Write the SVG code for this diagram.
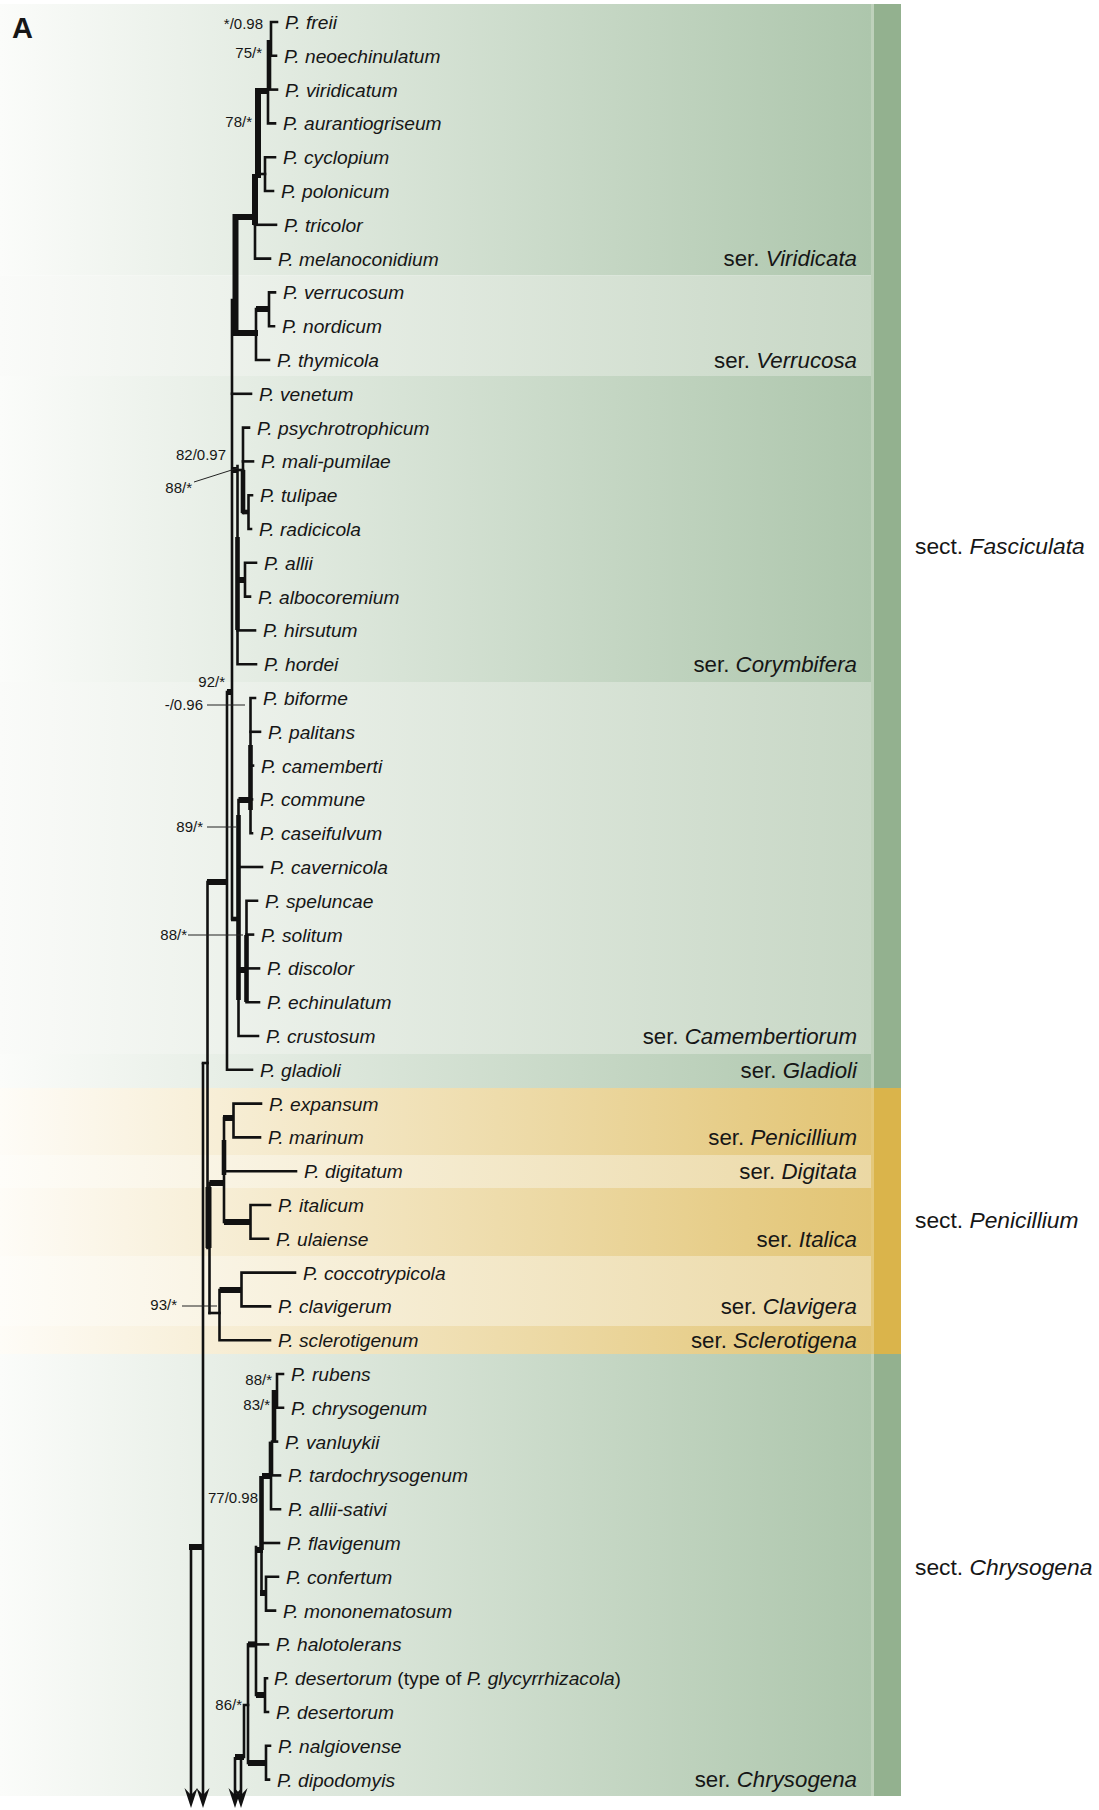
<svg xmlns="http://www.w3.org/2000/svg" width="1099" height="1810" viewBox="0 0 1099 1810">
<style>
.t{fill:none;stroke:#111;stroke-width:2.6;stroke-linecap:square;stroke-linejoin:miter}
.k{fill:none;stroke:#111;stroke-width:6;stroke-linecap:butt}
.k5{fill:none;stroke:#111;stroke-width:4.6;stroke-linecap:butt}
.a{fill:none;stroke:#111;stroke-width:2.6;marker-end:url(#arr)}
.ld{fill:none;stroke:#222;stroke-width:1}
text{font-family:"Liberation Sans",Arial,Helvetica,sans-serif;fill:#161616}
.tx{font-size:19.2px;font-style:italic}
.bs{font-size:15px;text-anchor:end}
.ser{font-size:22.3px;text-anchor:end}
.sec{font-size:22.8px}
.i{font-style:italic}
.up{font-style:normal}
</style>
<defs>
<linearGradient id="gD" gradientUnits="userSpaceOnUse" x1="0" y1="0" x2="871" y2="0"><stop offset="0" stop-color="#fbfcfa"/><stop offset="1" stop-color="#adc6ac"/></linearGradient>
<linearGradient id="gL" gradientUnits="userSpaceOnUse" x1="0" y1="0" x2="871" y2="0"><stop offset="0" stop-color="#fafbf9"/><stop offset="1" stop-color="#c7d7c5"/></linearGradient>
<linearGradient id="yD" gradientUnits="userSpaceOnUse" x1="0" y1="0" x2="871" y2="0"><stop offset="0" stop-color="#fefcf7"/><stop offset="1" stop-color="#e2c473"/></linearGradient>
<linearGradient id="yL" gradientUnits="userSpaceOnUse" x1="0" y1="0" x2="871" y2="0"><stop offset="0" stop-color="#fefdf9"/><stop offset="1" stop-color="#ebd8a4"/></linearGradient>
<marker id="arr" viewBox="-21 -8 22 16" markerUnits="userSpaceOnUse" markerWidth="22" markerHeight="16" refX="-12" refY="0" orient="auto"><path d="M0,0 L-20,-6.5 L-13,0 L-20,6.5 Z" fill="#111"/></marker>
</defs>
<rect width="1099" height="1810" fill="#fff"/>
<g id="bands">
<rect x="0" y="4" width="871" height="271.5" fill="url(#gD)"/>
<rect x="0" y="275.5" width="871" height="100.5" fill="url(#gL)"/>
<rect x="0" y="376" width="871" height="306" fill="url(#gD)"/>
<rect x="0" y="682" width="871" height="372" fill="url(#gL)"/>
<rect x="0" y="1054" width="871" height="34" fill="url(#gD)"/>
<rect x="0" y="1088" width="871" height="67" fill="url(#yD)"/>
<rect x="0" y="1155" width="871" height="33" fill="url(#yL)"/>
<rect x="0" y="1188" width="871" height="68" fill="url(#yD)"/>
<rect x="0" y="1256" width="871" height="70" fill="url(#yL)"/>
<rect x="0" y="1326" width="871" height="28" fill="url(#yD)"/>
<rect x="0" y="1354" width="871" height="442" fill="url(#gD)"/>
</g>
<g id="sections">
<rect x="871" y="4" width="3" height="1084" fill="#bed1bb"/>
<rect x="871" y="1088" width="3" height="266" fill="#e4c87a"/>
<rect x="871" y="1354" width="3" height="442" fill="#bed1bb"/>
<rect x="874" y="4" width="27" height="1084" fill="#93b18f"/>
<rect x="874" y="1088" width="27" height="266" fill="#dab44b"/>
<rect x="874" y="1354" width="27" height="442" fill="#93b18f"/>
<g id="sect-fasciculata"><text class="sec" x="915" y="554">sect. <tspan class="i">Fasciculata</tspan></text></g>
<g id="sect-penicillium"><text class="sec" x="915" y="1228">sect. <tspan class="i">Penicillium</tspan></text></g>
<g id="sect-chrysogena"><text class="sec" x="915" y="1575">sect. <tspan class="i">Chrysogena</tspan></text></g>
</g>
<g id="series">
<text class="ser" x="857" y="266">ser. <tspan class="i">Viridicata</tspan></text>
<text class="ser" x="857" y="367.5">ser. <tspan class="i">Verrucosa</tspan></text>
<text class="ser" x="857" y="671.5">ser. <tspan class="i">Corymbifera</tspan></text>
<text class="ser" x="857" y="1043.5">ser. <tspan class="i">Camembertiorum</tspan></text>
<text class="ser" x="857" y="1077.5">ser. <tspan class="i">Gladioli</tspan></text>
<text class="ser" x="857" y="1145">ser. <tspan class="i">Penicillium</tspan></text>
<text class="ser" x="857" y="1178.5">ser. <tspan class="i">Digitata</tspan></text>
<text class="ser" x="857" y="1246.5">ser. <tspan class="i">Italica</tspan></text>
<text class="ser" x="857" y="1314">ser. <tspan class="i">Clavigera</tspan></text>
<text class="ser" x="857" y="1347.5">ser. <tspan class="i">Sclerotigena</tspan></text>
<text class="ser" x="857" y="1787">ser. <tspan class="i">Chrysogena</tspan></text>
</g>
<text x="12" y="38" style="font-size:29px;font-weight:bold">A</text>
<g id="connectors">
<path class="t" d="M277,22 H271 V55.8 H276"/>
<path class="k5" d="M269,40 V90"/>
<path class="t" d="M269,89.6 H277"/>
<path class="t" d="M268,89.6 V123.4 H275"/>
<path class="k" d="M258,91 H269"/>
<path class="k" d="M258,88 V178"/>
<path class="t" d="M258,174 H265"/>
<path class="t" d="M275,157.2 H265 V191 H273"/>
<path class="k" d="M255,174 V225"/>
<path class="t" d="M255,224.8 H276"/>
<path class="t" d="M255,224 V258.6 H270"/>
<path class="k" d="M235.5,217 H258"/>
<path class="t" d="M275,292.4 H269 V326.2 H274"/>
<path class="k" d="M256,309 H269"/>
<path class="t" d="M256,309 V360 H269"/>
<path class="k" d="M232,333 H258"/>
<path class="k" d="M235.5,214 V336"/>
<path class="t" d="M232,300 V919"/>
<path class="t" d="M232,393.8 H251"/>
<path class="k" d="M232,470 H238"/>
<path class="t" d="M237.5,466 V664.2 H256"/>
<path class="k5" d="M237.5,537 V630"/>
<path class="t" d="M237.5,470 H243"/>
<path class="t" d="M249,427.6 H243 V513"/>
<path class="t" d="M243,461.4 H253"/>
<path class="k5" d="M243,470 V513"/>
<path class="k5" d="M243,512 H248.5"/>
<path class="t" d="M252,495.2 H248.5 V529 H251"/>
<path class="k" d="M237.5,580 H245"/>
<path class="t" d="M256,562.8 H245 V596.6 H250"/>
<path class="t" d="M237.5,630.4 H255"/>
<path class="k" d="M227,692 H233"/>
<path class="t" d="M227,692 V1069.8 H252"/>
<path class="k" d="M207,882 H228"/>
<path class="k5" d="M231,919 H239"/>
<path class="t" d="M255,698 H250.5 V833.2 H252"/>
<path class="k5" d="M250.5,745 V810"/>
<path class="t" d="M250.5,731.8 H260"/>
<path class="t" d="M250.5,765.6 H253"/>
<path class="t" d="M250.5,799.4 H252"/>
<path class="k" d="M238.5,800 H251"/>
<path class="t" d="M238.5,800 V1036 H258"/>
<path class="k5" d="M238.5,815 V1000"/>
<path class="t" d="M238.5,867 H262"/>
<path class="k" d="M238.5,970 H246.5"/>
<path class="t" d="M257,900.8 H246.5 V1002.2 H259"/>
<path class="k5" d="M246.5,935 V1002"/>
<path class="t" d="M246.5,934.6 H253"/>
<path class="t" d="M246.5,968.4 H259"/>
<path class="t" d="M207.5,882 V1248"/>
<path class="k" d="M208.5,1187 V1248"/>
<path class="t" d="M209.5,1183 V1313"/>
<path class="k" d="M209.5,1183 H224"/>
<path class="t" d="M224,1118 V1222"/>
<path class="k5" d="M224,1140 V1175"/>
<path class="k" d="M223,1118 H234"/>
<path class="t" d="M261,1103.6 H233.5 V1137.4 H260"/>
<path class="t" d="M224,1171.2 H296"/>
<path class="k" d="M224,1222 H250.5"/>
<path class="t" d="M270,1205 H250.5 V1238.8 H268"/>
<path class="t" d="M209.5,1313 H219.5"/>
<path class="t" d="M219.5,1290 V1340.2 H270"/>
<path class="k" d="M219.5,1290 H241.5"/>
<path class="t" d="M295,1272.6 H241.5 V1306.4 H270"/>
<path class="t" d="M203,1063 H207.5"/>
<path class="a" d="M203,1063 V1796"/>
<path class="k" d="M189,1547 H203"/>
<path class="a" d="M191,1547 V1796"/>
<path class="t" d="M283,1374 H277 V1407.8 H283"/>
<path class="k5" d="M274,1390 V1442"/>
<path class="t" d="M272,1441.6 H277"/>
<path class="k5" d="M271,1441.6 V1476"/>
<path class="k" d="M262,1476 H271"/>
<path class="t" d="M271,1475.4 H280"/>
<path class="t" d="M271,1476 V1509.2 H280"/>
<path class="k5" d="M261.5,1476 V1550"/>
<path class="t" d="M261.5,1543 H279"/>
<path class="k" d="M255,1550 H263"/>
<path class="t" d="M261.5,1550 V1593"/>
<path class="k" d="M260,1593 H267"/>
<path class="t" d="M278,1576.8 H266 V1610.6 H275"/>
<path class="t" d="M256,1547 V1695"/>
<path class="k" d="M248,1644.4 H257"/>
<path class="t" d="M257,1644.4 H268"/>
<path class="k" d="M256,1695 H265"/>
<path class="t" d="M267,1678.2 H265 V1712 H268"/>
<path class="t" d="M248,1644.4 V1763"/>
<path class="k" d="M248,1763 H266"/>
<path class="t" d="M270,1745.8 H266 V1779.6 H269"/>
<path class="t" d="M248,1705 H244 V1757"/>
<path class="k" d="M235,1757 H244"/>
<path class="a" d="M235,1757 V1796"/>
<path class="a" d="M241,1757 V1796"/>
<path class="ld" d="M194,482 L238,468"/>
<path class="ld" d="M207,705 H245"/>
<path class="ld" d="M207,827 H236"/>
<path class="ld" d="M188,935 H243"/>
<path class="ld" d="M182,1306 H217"/>
</g>
<g id="support">
<text class="bs" x="263" y="28.5">*/0.98</text>
<text class="bs" x="262" y="58">75/*</text>
<text class="bs" x="252" y="127">78/*</text>
<text class="bs" x="226" y="460">82/0.97</text>
<text class="bs" x="192" y="493">88/*</text>
<text class="bs" x="225" y="687">92/*</text>
<text class="bs" x="203" y="710">-/0.96</text>
<text class="bs" x="203" y="832">89/*</text>
<text class="bs" x="187" y="940">88/*</text>
<text class="bs" x="177" y="1310">93/*</text>
<text class="bs" x="272" y="1385">88/*</text>
<text class="bs" x="270" y="1410">83/*</text>
<text class="bs" x="258" y="1503">77/0.98</text>
<text class="bs" x="242" y="1710">86/*</text>
</g>
<g id="taxa">
<g id="t-freii"><text class="tx" x="285" y="29">P. freii</text></g>
<g id="t-neoechinulatum"><text class="tx" x="284" y="62.8">P. neoechinulatum</text></g>
<g id="t-viridicatum"><text class="tx" x="285" y="96.6">P. viridicatum</text></g>
<g id="t-aurantiogriseum"><text class="tx" x="283" y="130.4">P. aurantiogriseum</text></g>
<g id="t-cyclopium"><text class="tx" x="283" y="164.2">P. cyclopium</text></g>
<g id="t-polonicum"><text class="tx" x="281" y="198">P. polonicum</text></g>
<g id="t-tricolor"><text class="tx" x="284" y="231.8">P. tricolor</text></g>
<g id="t-melanoconidium"><text class="tx" x="278" y="265.6">P. melanoconidium</text></g>
<g id="t-verrucosum"><text class="tx" x="283" y="299.4">P. verrucosum</text></g>
<g id="t-nordicum"><text class="tx" x="282" y="333.2">P. nordicum</text></g>
<g id="t-thymicola"><text class="tx" x="277" y="367">P. thymicola</text></g>
<g id="t-venetum"><text class="tx" x="259" y="400.8">P. venetum</text></g>
<g id="t-psychrotrophicum"><text class="tx" x="257" y="434.6">P. psychrotrophicum</text></g>
<g id="t-mali-pumilae"><text class="tx" x="261" y="468.4">P. mali-pumilae</text></g>
<g id="t-tulipae"><text class="tx" x="260" y="502.2">P. tulipae</text></g>
<g id="t-radicicola"><text class="tx" x="259" y="536">P. radicicola</text></g>
<g id="t-allii"><text class="tx" x="264" y="569.8">P. allii</text></g>
<g id="t-albocoremium"><text class="tx" x="258" y="603.6">P. albocoremium</text></g>
<g id="t-hirsutum"><text class="tx" x="263" y="637.4">P. hirsutum</text></g>
<g id="t-hordei"><text class="tx" x="264" y="671.2">P. hordei</text></g>
<g id="t-biforme"><text class="tx" x="263" y="705">P. biforme</text></g>
<g id="t-palitans"><text class="tx" x="268" y="738.8">P. palitans</text></g>
<g id="t-camemberti"><text class="tx" x="261" y="772.6">P. camemberti</text></g>
<g id="t-commune"><text class="tx" x="260" y="806.4">P. commune</text></g>
<g id="t-caseifulvum"><text class="tx" x="260" y="840.2">P. caseifulvum</text></g>
<g id="t-cavernicola"><text class="tx" x="270" y="874">P. cavernicola</text></g>
<g id="t-speluncae"><text class="tx" x="265" y="907.8">P. speluncae</text></g>
<g id="t-solitum"><text class="tx" x="261" y="941.6">P. solitum</text></g>
<g id="t-discolor"><text class="tx" x="267" y="975.4">P. discolor</text></g>
<g id="t-echinulatum"><text class="tx" x="267" y="1009.2">P. echinulatum</text></g>
<g id="t-crustosum"><text class="tx" x="266" y="1043">P. crustosum</text></g>
<g id="t-gladioli"><text class="tx" x="260" y="1076.8">P. gladioli</text></g>
<g id="t-expansum"><text class="tx" x="269" y="1110.6">P. expansum</text></g>
<g id="t-marinum"><text class="tx" x="268" y="1144.4">P. marinum</text></g>
<g id="t-digitatum"><text class="tx" x="304" y="1178.2">P. digitatum</text></g>
<g id="t-italicum"><text class="tx" x="278" y="1212">P. italicum</text></g>
<g id="t-ulaiense"><text class="tx" x="276" y="1245.8">P. ulaiense</text></g>
<g id="t-coccotrypicola"><text class="tx" x="303" y="1279.6">P. coccotrypicola</text></g>
<g id="t-clavigerum"><text class="tx" x="278" y="1313.4">P. clavigerum</text></g>
<g id="t-sclerotigenum"><text class="tx" x="278" y="1347.2">P. sclerotigenum</text></g>
<g id="t-rubens"><text class="tx" x="291" y="1381">P. rubens</text></g>
<g id="t-chrysogenum"><text class="tx" x="291" y="1414.8">P. chrysogenum</text></g>
<g id="t-vanluykii"><text class="tx" x="285" y="1448.6">P. vanluykii</text></g>
<g id="t-tardochrysogenum"><text class="tx" x="288" y="1482.4">P. tardochrysogenum</text></g>
<g id="t-allii-sativi"><text class="tx" x="288" y="1516.2">P. allii-sativi</text></g>
<g id="t-flavigenum"><text class="tx" x="287" y="1550">P. flavigenum</text></g>
<g id="t-confertum"><text class="tx" x="286" y="1583.8">P. confertum</text></g>
<g id="t-mononematosum"><text class="tx" x="283" y="1617.6">P. mononematosum</text></g>
<g id="t-halotolerans"><text class="tx" x="276" y="1651.4">P. halotolerans</text></g>
<g id="t-desertorum-type"><text class="tx" x="274" y="1685.2">P. desertorum <tspan class="up">(type of </tspan>P. glycyrrhizacola<tspan class="up">)</tspan></text></g>
<g id="t-desertorum"><text class="tx" x="276" y="1719">P. desertorum</text></g>
<g id="t-nalgiovense"><text class="tx" x="278" y="1752.8">P. nalgiovense</text></g>
<g id="t-dipodomyis"><text class="tx" x="277" y="1786.6">P. dipodomyis</text></g>
</g>
</svg>
